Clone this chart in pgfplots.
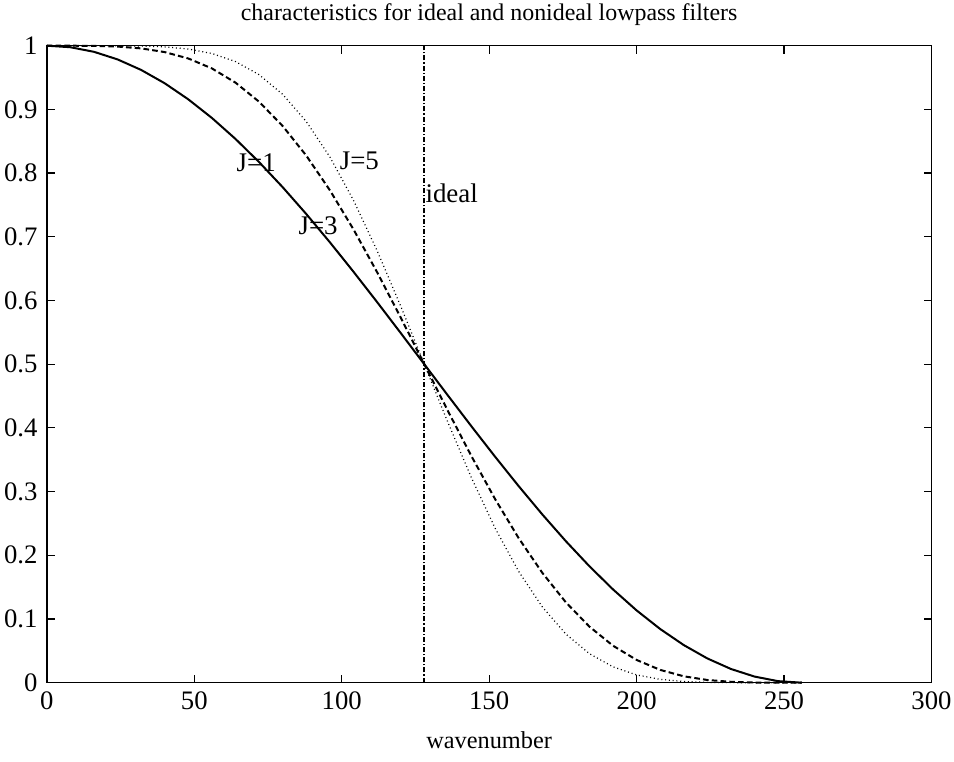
\documentclass[border=0pt]{standalone}
\usepackage{pgfplots}
\pgfplotsset{compat=1.18}
\usepackage{fontspec}
\setmainfont{Liberation Serif}
\begin{document}
\begin{tikzpicture}
\useasboundingbox (-23.4bp,-39.65bp) rectangle (453.6bp,341.35bp);
\begin{axis}[
  at={(0,0)}, anchor=south west,
  scale only axis,
  width=442.35bp, height=318.5bp,
  xmin=0, xmax=300, ymin=0, ymax=1,
  xtick={0,50,...,300},
  ytick={0,0.1,...,1.0},
  yticklabels={0,0.1,0.2,0.3,0.4,0.5,0.6,0.7,0.8,0.9,1},
  tick align=inside,
  tick pos=both,
  major tick length=4bp,
  axis line style={line width=0.7bp},
  every tick/.style={line width=0.6bp, black},
  /pgf/number format/assume math mode=true,
  tick label style={font=\fontsize{13.4}{16}\selectfont, inner sep=0pt},
  xticklabel style={anchor=north, yshift=-4.5bp},
  yticklabel style={anchor=east, xshift=-4.5bp},
  every axis title/.style={font=\fontsize{12}{15}\selectfont, at={(0.5,1)}, anchor=center, yshift=15.6bp},
  title={characteristics for ideal and nonideal lowpass filters},
  xlabel style={font=\fontsize{12.2}{15}\selectfont, at={(0.5,0)}, anchor=center, yshift=-28.65bp},
  xlabel={wavenumber},
  clip=false,
]
% J=1
\addplot[black, line width=1bp] coordinates {
(0,1)(8,0.99759)(16,0.99039)(24,0.97847)(32,0.96194)(40,0.94096)(48,0.91573)(56,0.88651)
(64,0.85355)(72,0.81720)(80,0.77779)(88,0.73570)(96,0.69134)(104,0.64514)(112,0.59755)(120,0.54901)
(128,0.5)(136,0.45099)(144,0.40245)(152,0.35486)(160,0.30866)(168,0.26430)(176,0.22221)(184,0.18280)
(192,0.14645)(200,0.11349)(208,0.08427)(216,0.05904)(224,0.03806)(232,0.02153)(240,0.00961)(248,0.00241)(256,0)
};
% J=3
\addplot[black, line width=1bp, dash pattern=on 2.8bp off 1.6bp] coordinates {
(0,1)(8,0.99998)(16,0.99972)(24,0.99863)(32,0.99576)(40,0.98995)(48,0.97989)(56,0.96428)
(64,0.94194)(72,0.91197)(80,0.87381)(88,0.82736)(96,0.77300)(104,0.71160)(112,0.64446)(120,0.57328)
(128,0.5)(136,0.42672)(144,0.35554)(152,0.28840)(160,0.22700)(168,0.17264)(176,0.12619)(184,0.08803)
(192,0.05806)(200,0.03572)(208,0.02011)(216,0.01005)(224,0.00424)(232,0.00137)(240,0.00028)(248,0.00002)(256,0)
};
% J=5
\addplot[black, line width=0.6bp, dash pattern=on 0.5bp off 1.4bp] coordinates {
(0,1)(8,1.0)(16,0.99999)(24,0.99990)(32,0.99948)(40,0.99812)(48,0.99475)(56,0.98776)
(64,0.97509)(72,0.95444)(80,0.92360)(88,0.88083)(96,0.82528)(104,0.75724)(112,0.67831)(120,0.59130)
(128,0.5)(136,0.40870)(144,0.32169)(152,0.24277)(160,0.17472)(168,0.11917)(176,0.07641)(184,0.04556)
(192,0.02491)(200,0.01224)(208,0.00525)(216,0.00188)(224,0.00052)(232,0.00010)(240,0.00001)(248,0)(256,0)
};
% ideal
\addplot[black, line width=0.9bp, dash pattern=on 2.5bp off 1bp on 0.6bp off 1bp] coordinates {
(128,0)(128,1)
};
\node[font=\fontsize{13.5}{16}\selectfont, inner sep=0pt] at (axis cs:71,0.817) {J=1};
\node[font=\fontsize{13.5}{16}\selectfont, inner sep=0pt] at (axis cs:106,0.82) {J=5};
\node[font=\fontsize{13.5}{16}\selectfont, inner sep=0pt] at (axis cs:92,0.718) {J=3};
\node[font=\fontsize{13.5}{16}\selectfont, anchor=west, inner sep=0pt] at (axis cs:128.3,0.769) {ideal};
\end{axis}
\end{tikzpicture}
\end{document}
